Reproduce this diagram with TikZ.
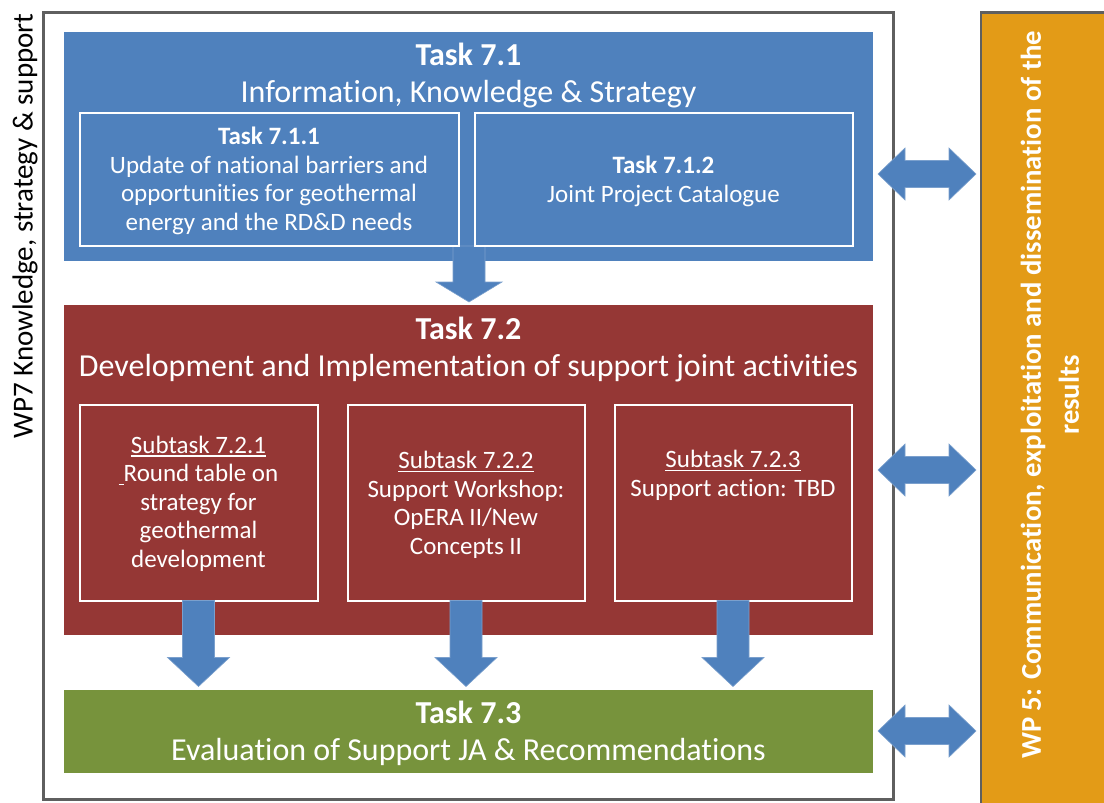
\documentclass[tikz,border=0pt]{standalone}
\usepackage{fontspec}
\setmainfont{Carlito}[Ligatures=CommonOff]
\usetikzlibrary{calc}

\definecolor{taskblue}{HTML}{4F81BD}
\definecolor{taskred}{HTML}{953735}
\definecolor{taskgreen}{HTML}{77933C}
\definecolor{wporange}{HTML}{E39B17}
\definecolor{framegray}{HTML}{5F5F5F}

% underline drawn as a rule below the baseline
\newcommand{\ulword}[1]{\leavevmode\setbox0=\hbox{#1}\rlap{\rule[-3.5pt]{\wd0}{1.4pt}}\box0}
\newcommand{\bigfs}{\fontsize{32}{37}\selectfont}
\newcommand{\smallfs}{\fontsize{25}{28.5}\selectfont}

\tikzset{
  panel/.style={rectangle, inner sep=0pt, outer sep=0pt, anchor=north west},
  subbox/.style={panel, draw=white, line width=2pt},
  % multi-line texts are placed by the baseline of their last line
  bigtext/.style={anchor=base, align=center, text=white, font=\bigfs, inner sep=0pt},
  smalltext/.style={anchor=base, align=center, text=white, font=\smallfs, inner sep=0pt},
  blockarrow/.style={fill=taskblue, draw=taskblue!75!white, line width=0.6pt},
  dblarrow/.pic={
    \path[blockarrow] (-49,0) -- (-22,-26) -- (-22,-13.5) -- (22,-13.5) -- (22,-26)
      -- (49,0) -- (22,26) -- (22,13.5) -- (-22,13.5) -- (-22,26) -- cycle;
  }
}

\begin{document}
\begin{tikzpicture}[x=1pt, y=-1pt]
\useasboundingbox (0,0) rectangle (1104,803);
\clip (0,0) rectangle (1104,803);
\fill[white] (0,0) rectangle (1104,803);

% work package frame and its side label
\node[panel, draw=framegray, line width=3pt, minimum width=850, minimum height=787] (frame) at (43.5,12.5) {};
\node[rotate=90, font=\fontsize{29}{35}\selectfont, inner sep=0pt] (wp7) at (25,226) {WP7 Knowledge, strategy \& support};

% WP5 column
\node[panel, fill=wporange, draw=framegray, line width=2.5pt, minimum width=140, minimum height=820] (wp5) at (981,12.5) {};
\node[rotate=90, font=\fontsize{28.7}{38}\selectfont\bfseries, text=white, align=center, inner sep=0pt] (wp5txt) at (1050,395)
  {WP 5: Communication, exploitation and dissemination of the\\results};

% task panels
\node[panel, fill=taskblue, minimum width=809, minimum height=229] (t71) at (64,32) {};
\node[panel, fill=taskred, minimum width=809, minimum height=330] (t72) at (64,305) {};
\node[panel, fill=taskgreen, minimum width=809, minimum height=83] (t73) at (64,690) {};

% arrow from task 7.1 to task 7.2
\coordinate (a1) at (469,246);
\path[blockarrow] (a1) ++(-16,0) -- ++(0,36) -- ++(-17,0) -- ++(33,20) -- ++(33,-20) -- ++(-17,0) -- ++(0,-36) -- cycle;

% sub-tasks of task 7.1
\node[subbox, minimum width=379, minimum height=133] (t711) at (79.5,112.5) {};
\node[subbox, minimum width=378, minimum height=133] (t712) at (474.5,112.5) {};

% sub-tasks of task 7.2
\node[subbox, minimum width=238, minimum height=196] (s1) at (79.5,404.5) {};
\node[subbox, minimum width=237, minimum height=196] (s2) at (347.5,404.5) {};
\node[subbox, minimum width=237, minimum height=196] (s3) at (614.5,404.5) {};

% arrows from the sub-tasks to task 7.3
\foreach \s in {s1,s2,s3}{
  \path[blockarrow] (\s.south) ++(-16,0) -- ++(0,57) -- ++(-15,0) -- ++(31,29) -- ++(31,-29) -- ++(-15,0) -- ++(0,-57) -- cycle;
}

% links to WP5
\pic at (927,174) {dblarrow};
\pic at (927,470) {dblarrow};
\pic at (927,731) {dblarrow};

% texts
\node[bigtext] (t71txt) at (468.5,102) {\textbf{Task 7.1}\\Information, Knowledge \& Strategy};
\node[smalltext] (t711txt) at (269,230) {\textbf{Task 7.1.1}\\Update of national barriers and\\opportunities for geothermal\\energy and the RD\&D needs};
\node[smalltext] (t712txt) at (663.5,202) {\textbf{Task 7.1.2}\\Joint Project Catalogue};
\node[bigtext] (t72txt) at (468.5,376) {\textbf{Task 7.2}\\Development and Implementation of support joint activities};
\node[smalltext] (s1txt) at (198.5,567) {\ulword{Subtask 7.2.1}\\\ulword{\hspace{5pt}}Round table on\\strategy for\\geothermal\\development};
\node[smalltext] (s2txt) at (466,554) {\ulword{Subtask 7.2.2}\\Support Workshop:\\OpERA II/New\\Concepts II};
\node[smalltext] (s3txt) at (733,496) {\ulword{Subtask 7.2.3}\\Support action: TBD};
\node[bigtext] (t73txt) at (468.5,760) {\textbf{Task 7.3}\\Evaluation of Support JA \& Recommendations};
\end{tikzpicture}
\end{document}
